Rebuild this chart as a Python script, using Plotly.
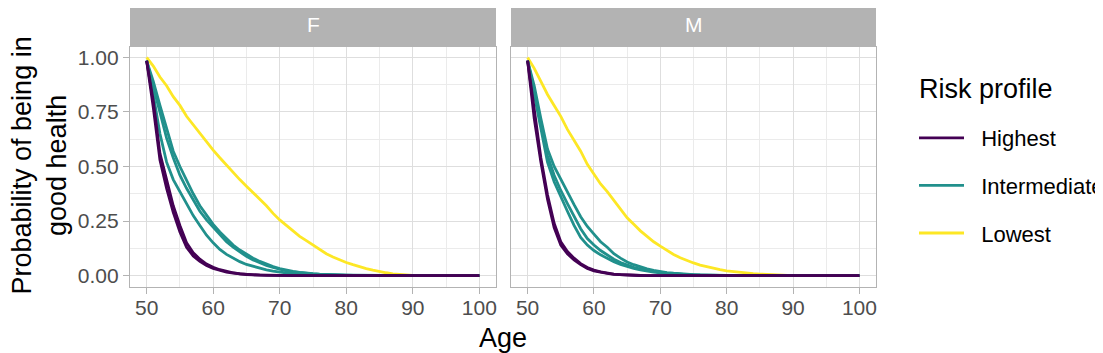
import plotly.graph_objects as go

W, H = 1103, 353
# the page keeps the browser's default 8px body margin, so shift everything by it
OFF = 8

age = list(range(50, 101))
age_ticks = [50, 60, 70, 80, 90, 100]
prob_ticks = [0, 0.25, 0.5, 0.75, 1.0]
prob_labels = ["0.00", "0.25", "0.50", "0.75", "1.00"]

profiles = ["Highest", "Intermediate", "Lowest"]
colors = {"Highest": "#440154", "Intermediate": "#21908C", "Lowest": "#FDE725"}

# F panel, values from age 50 upward (remaining ages are 0)
f_lowest = [
    [1.00, .96, .91, .87, .82, .78, .73, .69, .65, .61, .575, .54, .505, .47, .44, .41, .38, .35,
     .32, .285, .255, .23, .205, .18, .16, .14, .12, .10, .085, .072, .06, .05, .04, .032, .025,
     .018, .013, .008, .005, .003, .001],
]
f_intermediate = [
    [.985, .83, .65, .52, .44, .385, .33, .275, .23, .185, .15, .12, .097, .08, .064, .051, .042,
     .033, .026, .02, .015, .011, .008, .006, .004, .003, .002, .0015, .001, .0005, 0],
    [.985, .87, .75, .63, .54, .46, .40, .345, .295, .255, .22, .185, .155, .13, .108, .088, .072,
     .058, .047, .037, .029, .022, .017, .013, .01, .008, .006, .0045, .003, .002, .0015, .001,
     .0007, .0004, .0002, 0],
    [.985, .89, .78, .67, .57, .50, .435, .375, .32, .275, .235, .20, .168, .14, .117, .097, .08,
     .065, .052, .041, .032, .025, .019, .015, .011, .009, .007, .005, .004, .003, .002, .0015,
     .001, .0006, .0003, 0],
]
f_highest = [
    [.985, .77, .53, .40, .29, .20, .13, .09, .065, .046, .033, .024, .016, .011, .007, .005, .003,
     .002, .001, .0005, 0],
    [.985, .80, .56, .44, .32, .23, .15, .105, .075, .053, .038, .027, .019, .013, .008, .005, .003,
     .002, .001, .0005, 0],
]

# M panel
m_lowest = [
    [1.00, .95, .89, .83, .78, .73, .67, .62, .57, .51, .465, .42, .385, .345, .305, .265, .235,
     .205, .18, .155, .135, .115, .097, .082, .069, .058, .048, .04, .033, .027, .022, .018, .014,
     .011, .009, .007, .005, .003, .002, .001, 0],
]
m_intermediate = [
    [.985, .87, .72, .58, .50, .44, .385, .325, .27, .225, .19, .155, .13, .10, .08, .062, .05, .04,
     .031, .024, .018, .014, .011, .008, .006, .0045, .003, .002, .0015, .001, .0006, .0003, 0],
    [.985, .85, .69, .55, .46, .39, .33, .27, .215, .17, .14, .115, .093, .075, .06, .048, .038,
     .03, .024, .019, .015, .011, .008, .006, .0045, .003, .002, .0015, .001, .0006, .0003, 0],
    [.985, .83, .66, .52, .43, .36, .295, .23, .175, .14, .115, .095, .078, .063, .051, .041, .033,
     .026, .02, .016, .012, .009, .007, .005, .0035, .0025, .0017, .001, .0006, .0003, 0],
]
m_highest = [
    [.985, .72, .52, .35, .22, .14, .10, .072, .05, .033, .022, .015, .01, .006, .004, .002, .001,
     .0005, 0],
    [.985, .75, .54, .37, .24, .155, .11, .08, .055, .037, .025, .017, .011, .007, .004, .002,
     .001, .0005, 0],
]

panels = {
    "F": {"Lowest": f_lowest, "Intermediate": f_intermediate, "Highest": f_highest},
    "M": {"Lowest": m_lowest, "Intermediate": m_intermediate, "Highest": m_highest},
}


def pad(vals):
    return list(vals) + [0.0] * (len(age) - len(vals))


def fx(p):
    return (p - OFF) / W


def fy(p):
    return 1 - (p - OFF) / H


fig = go.Figure()
shown = set()
for i, (sex, groups) in enumerate(panels.items()):
    xa = "x" if i == 0 else "x2"
    ya = "y" if i == 0 else "y2"
    for prof in ["Lowest", "Intermediate", "Highest"]:
        for vals in groups[prof]:
            fig.add_trace(go.Scatter(
                x=age, y=pad(vals), mode="lines", xaxis=xa, yaxis=ya,
                line=dict(color=colors[prof], width=2.8),
                name="\u00a0\u00a0" + prof, legendgroup=prof,
                legendrank=profiles.index(prof) + 1,
                showlegend=prof not in shown, hoverinfo="skip",
            ))
            shown.add(prof)

grid = dict(showgrid=True, gridcolor="#dedede", gridwidth=1.3, zeroline=False,
            showline=True, mirror=True, linecolor="#b3b3b3", linewidth=1.2,
            ticks="outside", ticklen=6, tickcolor="#b3b3b3", tickwidth=1.2,
            tickfont=dict(size=21, color="#4d4d4d"), automargin=False)

xcommon = dict(grid, range=[47.5, 102.5], tickvals=age_ticks, ticklabelstandoff=-4,
               minor=dict(dtick=5, tick0=45, showgrid=True, gridcolor="#ebebeb", gridwidth=0.8))
ycommon = dict(grid, range=[-0.05, 1.05], tickvals=prob_ticks, ticktext=prob_labels,
               minor=dict(dtick=0.125, tick0=0.125, showgrid=True, gridcolor="#ebebeb", gridwidth=0.8))

ydom = [fy(286.5), fy(46.5)]
fig.update_layout(
    width=W, height=H,
    margin=dict(l=0, r=0, t=0, b=0),
    paper_bgcolor="white", plot_bgcolor="white",
    font=dict(family="Liberation Sans, Arial, sans-serif", color="black"),
    xaxis=dict(xcommon, domain=[fx(130), fx(496)], anchor="y"),
    xaxis2=dict(xcommon, domain=[fx(511), fx(876)], anchor="y2"),
    yaxis=dict(ycommon, domain=ydom, anchor="x"),
    yaxis2=dict(ycommon, domain=ydom, anchor="x2", showticklabels=False, ticks=""),
    legend=dict(
        font=dict(size=22), x=fx(914), y=fy(117), xanchor="left", yanchor="top",
        itemwidth=45, tracegroupgap=16, bgcolor="rgba(0,0,0,0)",
    ),
    showlegend=True,
)

strips = [("F", 130, 496), ("M", 511, 876)]
for label, x0, x1 in strips:
    fig.add_shape(type="rect", xref="paper", yref="paper",
                  x0=fx(x0), x1=fx(x1), y0=fy(46.5), y1=1,
                  fillcolor="#b3b3b3", line=dict(width=0))
    fig.add_annotation(text=label, xref="paper", yref="paper",
                       x=fx((x0 + x1) / 2), y=fy(25), xanchor="center", yanchor="middle",
                       showarrow=False, font=dict(size=21, color="white"))

fig.add_annotation(text="Risk profile", xref="paper", yref="paper", x=fx(917), y=fy(89),
                   xanchor="left", yanchor="middle", showarrow=False, font=dict(size=27))
fig.add_annotation(text="Age", xref="paper", yref="paper", x=fx(503), y=fy(338),
                   xanchor="center", yanchor="middle", showarrow=False, font=dict(size=27))
fig.add_annotation(text="Probability of being in<br>good health", xref="paper", yref="paper",
                   x=fx(38.5), y=fy(166), xanchor="center", yanchor="middle",
                   textangle=-90, showarrow=False, font=dict(size=27))

fig.write_html("out.html", config={"displayModeBar": False})
